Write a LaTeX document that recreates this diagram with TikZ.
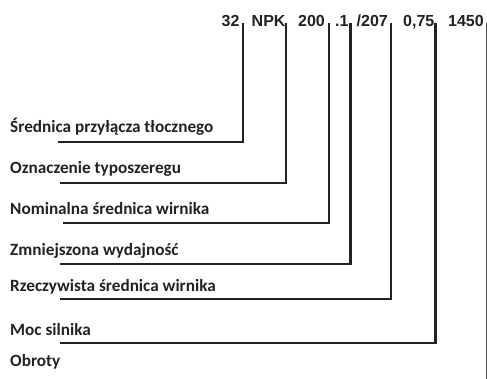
\documentclass[tikz,border=0pt]{standalone}
\usepackage{fontspec}
\setmainfont{Carlito}
\newfontfamily\codefont{Liberation Sans}
\definecolor{ink}{HTML}{222222}
\begin{document}
\begin{tikzpicture}[x=1pt,y=-1pt,
  code/.style={inner sep=0pt,anchor=base west,font=\codefont\bfseries\fontsize{16}{18}\selectfont,text=ink},
  lbl/.style={inner sep=0pt,anchor=base west,font=\bfseries\fontsize{17.2}{20}\selectfont,text=ink},
  lead/.style={draw=ink,line width=2.4pt},
  leadthin/.style={draw=ink!80,line width=0.9pt}]
\useasboundingbox (0,0) rectangle (487,379);
% header
\node[code] (h1) at (221.5,26.5) {32};
\node[code] (h2) at (251.5,26.5) {NPK};
\node[code] (h3) at (298,26.5) {200};
\node[code] (h4) at (335,26.5) {.1};
\node[code] (h5) at (356.5,26.5) {/207};
\node[code] (h6) at (403,26.5) {0,75};
\node[code] (h7) at (448,26.5) {1450};
% tick tops
\coordinate (t1) at (243,23);
\coordinate (t2) at (286,23);
\coordinate (t3) at (329,23);
\coordinate (t4) at (350.5,23);
\coordinate (t5) at (391,23);
\coordinate (t6) at (435.5,23);
\coordinate (t7) at (486.5,23);
% labels
\node[lbl] (l1) at (10,133) {Średnica przyłącza tłocznego};
\node[lbl] (l2) at (10,174) {Oznaczenie typoszeregu};
\node[lbl] (l3) at (10,214.5) {Nominalna średnica wirnika};
\node[lbl] (l4) at (10,255.5) {Zmniejszona wydajność};
\node[lbl] (l5) at (10,291.5) {Rzeczywista średnica wirnika};
\node[lbl] (l6) at (10,335.5) {Moc silnika};
\node[lbl] (l7) at (10,366.5) {Obroty};
% leader starts
\coordinate (s1) at (58,142);
\coordinate (s2) at (60,183);
\coordinate (s3) at (63,223);
\coordinate (s4) at (60,264);
\coordinate (s5) at (60,299);
\coordinate (s6) at (60,343);
\coordinate (s7) at (486.5,379);
% leaders
\draw[lead] (s1) -| (t1);
\draw[lead] (s2) -| (t2);
\draw[lead] (s3) -| (t3);
\draw[lead] (s4) -| (t4);
\draw[lead] (s5) -| (t5);
\draw[lead] (s6) -| (t6);
\draw[leadthin] (s7) -- (t7);
\end{tikzpicture}
\end{document}
